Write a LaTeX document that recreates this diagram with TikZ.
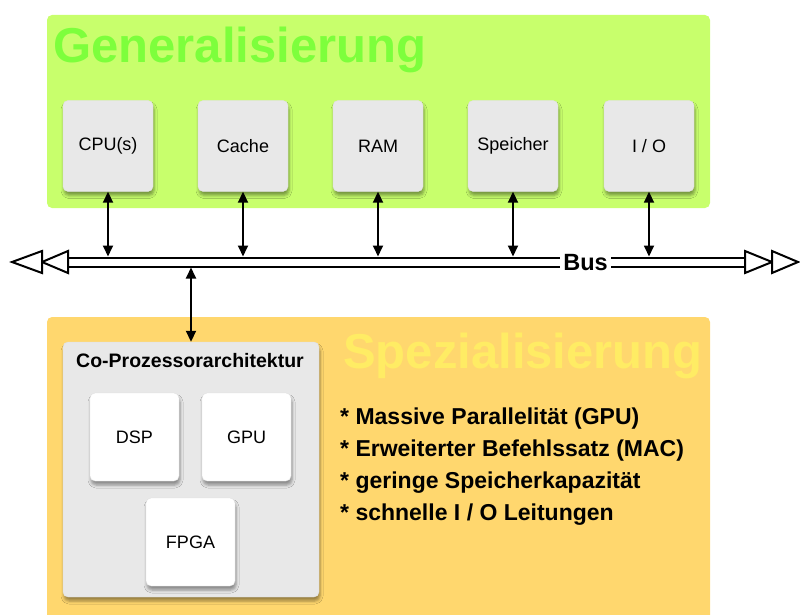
\documentclass[tikz,border=0pt]{standalone}
\usepackage{fontspec}
\setmainfont{Liberation Sans}
\usetikzlibrary{arrows.meta,shadows.blur}
\definecolor{genbg}{RGB}{200,255,108}
\definecolor{gentitle}{RGB}{125,255,60}
\definecolor{spebg}{RGB}{255,215,110}
\definecolor{spetitle}{RGB}{255,236,100}
\definecolor{boxgray}{RGB}{232,232,232}
\begin{document}
\begin{tikzpicture}[x=1pt,y=-1pt,
  region/.style={draw=none, rounded corners=5pt, inner sep=0pt},
  shade/.style={blur shadow={shadow xshift=1pt, shadow yshift=-4pt, shadow blur radius=3pt, shadow opacity=40}},
  unit/.style={shade, draw=black!12, line width=0.4pt, fill=boxgray, rounded corners=5pt,
    minimum width=90pt, minimum height=91pt, inner sep=0pt, font=\fontsize{18}{21}\selectfont},
  chip/.style={unit, fill=white, minimum width=89pt, minimum height=88pt},
  title/.style={anchor=base west, inner sep=0pt, font=\bfseries\fontsize{49}{55}\selectfont},
  vio/.style={line width=1.8pt, {Triangle[length=11pt,width=10pt]}-{Triangle[length=11pt,width=10pt]}},
  busline/.style={draw=black, line width=2pt, double=white, double distance=7pt},
  bustip/.style={draw=black, fill=white, line width=2pt, line join=miter}
]
\useasboundingbox (0,0) rectangle (800,615);

% regions
\node[region, fill=genbg, minimum width=663pt, minimum height=193pt] (gen) at (378.5,111.5) {};
\node[region, fill=spebg, minimum width=663pt, minimum height=323pt] (spe) at (378.5,478.5) {};
\node[title, text=gentitle] (gentext) at (53,63) {Generalisierung};
\node[title, text=spetitle] (spetext) at (343,368) {Spezialisierung};

% general units
\node[unit] (cpu) at (108,146) {CPU(s)};
\node[unit] (cache) at (243,146) {Cache};
\node[unit] (ram) at (378,146) {RAM};
\node[unit] (mem) at (513,146) {Speicher};
\node[unit] (io) at (649,146) {I / O};

% bus
\coordinate (busL) at (68,262);
\coordinate (busR) at (745,262);
\coordinate (busT) at (0,256.5);
\coordinate (busB) at (0,267.5);
\draw[busline] (busL) -- (busR);
\node[fill=white, inner xsep=3pt, inner ysep=1pt, font=\bfseries\fontsize{23.5}{25}\selectfont] (bus) at (585.5,263) {Bus};
\draw[bustip] (68,251) -- (42,262) -- (68,273) -- cycle;
\draw[bustip] (42,251) -- (12,262) -- (42,273) -- cycle;
\draw[bustip] (745,251) -- (772,262) -- (745,273) -- cycle;
\draw[bustip] (772,251) -- (798,262) -- (772,273) -- cycle;

\foreach \u in {cpu,cache,ram,mem,io}
  \draw[vio] (\u.south) -- (\u.south |- busT);

% co-processor
\node[unit, minimum width=256pt, minimum height=255pt] (coproc) at (191,469.5) {};
\node[anchor=base, inner sep=0pt, font=\bfseries\fontsize{19.5}{22}\selectfont] (cotitle) at (190,367) {Co-Prozessorarchitektur};
\draw[vio] (coproc.north |- busB) -- (coproc.north);

\node[chip] (dsp) at (134.5,437) {DSP};
\node[chip] (gpu) at (246.5,437) {GPU};
\node[chip] (fpga) at (190.5,542) {FPGA};

\node[anchor=base west, inner sep=0pt, align=left, font=\bfseries\fontsize{23}{32}\selectfont] (list) at (340,520)
 {* Massive Parallelität (GPU)\\
  * Erweiterter Befehlssatz (MAC)\\
  * geringe Speicherkapazität\\
  * schnelle I / O Leitungen};
\end{tikzpicture}
\end{document}
